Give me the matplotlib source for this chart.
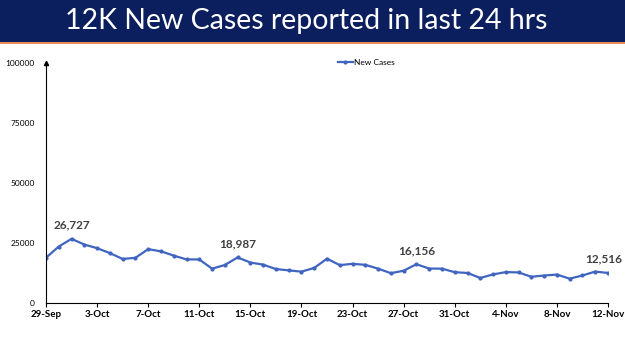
import matplotlib
matplotlib.use("Agg")
import matplotlib.pyplot as plt
import pandas as pd

# daily new cases, 29-Sep to 12-Nov
dates = pd.date_range("2021-09-29", "2021-11-12", freq="D")
new_cases = [
    18870, 23529, 26727, 24354, 22842, 20799, 18346, 18833, 22431, 21527,
    19740, 18166, 18132, 14313, 15823, 18987, 16862, 15981, 14146, 13596,
    13058, 14623, 18454, 15786, 16326, 15906, 14306, 12428, 13451, 16156,
    14348, 14313, 12830, 12514, 10423, 11903, 12885, 12729, 10929, 11451,
    11850, 10126, 11466, 13091, 12516,
]
labelled = {2: "26,727", 15: "18,987", 29: "16,156", 44: "12,516"}
y_ticks = [0, 25000, 50000, 75000, 100000]
title = "12K New Cases reported in last 24 hrs"

plt.rcParams["font.family"] = ["Lato", "DejaVu Sans"]

fig = plt.figure(figsize=(6.25, 3.51), dpi=100)

# title banner
banner = fig.add_axes([0, 1 - 42 / 351, 1, 42 / 351])
banner.set_xlim(0, 1)
banner.set_ylim(0, 1)
banner.axis("off")
banner.add_patch(plt.Rectangle((0, 0), 1, 1, color="#0b1f5e"))
banner.text(0.49, 0.5, title, color="white", fontsize=20.5,
            ha="center", va="center")
fig.add_artist(plt.Line2D([0, 1], [1 - 43 / 351] * 2, color="#e8743b", lw=1.2))

ax = fig.add_axes([46 / 625, 1 - 303 / 351, 562 / 625, 240 / 351])
x = list(range(len(dates)))
ax.plot(x, new_cases, color="#4065c0", lw=1.6, marker="o", ms=2.0,
        label="New Cases")

for i, txt in labelled.items():
    dx = -3 if i == len(dates) - 1 else 0
    ax.annotate(txt, (x[i], new_cases[i]), xytext=(dx, 6),
                textcoords="offset points", ha="center", va="bottom",
                fontsize=8.5, fontweight="bold", color="#404040")

ax.set_xlim(0, len(dates) - 1)
ax.set_ylim(0, 100000)
ax.set_yticks(y_ticks)
ax.set_yticklabels([str(v) for v in y_ticks], fontsize=6)
tick_pos = x[::4]
ax.set_xticks(tick_pos)
ax.set_xticklabels([f"{dates[i].day}-{dates[i].strftime('%b')}" for i in tick_pos],
                   fontsize=7, fontweight="bold")
ax.tick_params(axis="y", length=0, pad=8)
ax.tick_params(axis="x", length=3, width=0.8, direction="out", pad=2)
for s in ["top", "right"]:
    ax.spines[s].set_visible(False)
ax.spines["left"].set_linewidth(0.8)
ax.spines["bottom"].set_linewidth(0.8)
ax.plot([0], [100000], marker="^", color="black", ms=3, clip_on=False)

ax.legend(loc="upper center", bbox_to_anchor=(0.57, 1.05), frameon=False,
          fontsize=6, handlelength=1.8, handletextpad=0.2)

fig.savefig("out.png", dpi=100)
